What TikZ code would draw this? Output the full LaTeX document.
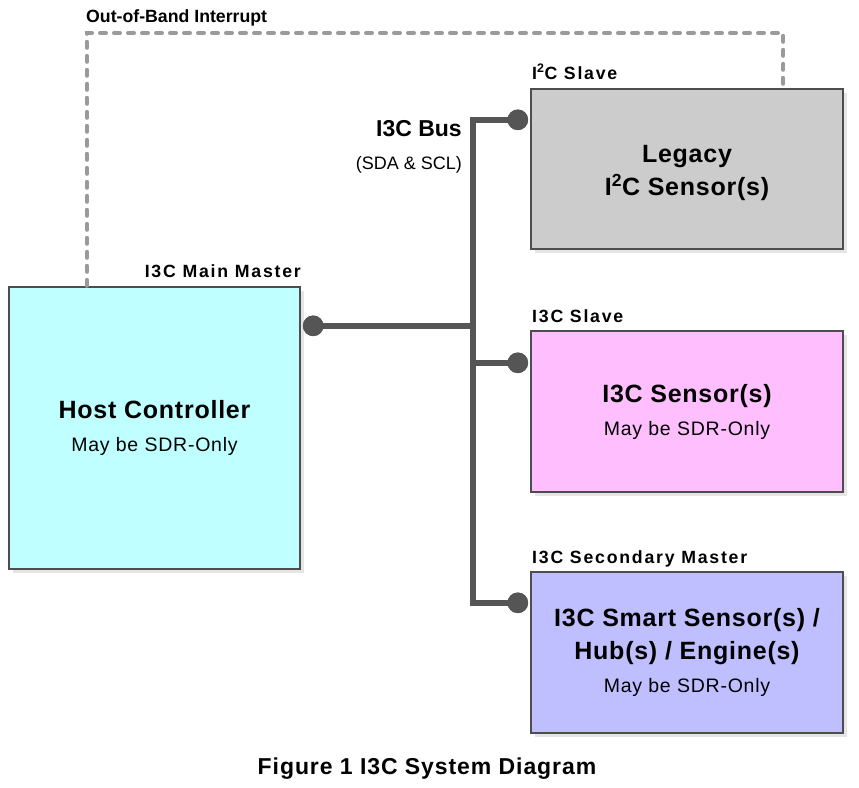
\documentclass[tikz,border=0pt]{standalone}
\usepackage{fontspec}
\setmainfont{Liberation Sans}
\usetikzlibrary{shadows}
\begin{document}
\begin{tikzpicture}[x=1pt,y=-1pt,
  unitbox/.style={draw=boxedge, line width=2.4pt, rectangle, align=center,
    inner sep=0pt, text=black,
    drop shadow={shadow xshift=4pt, shadow yshift=-4pt, fill=black!10, opacity=1},
    font=\fontsize{25}{33}\selectfont\bfseries\addfontfeatures{LetterSpace=3}},
  lbl/.style={inner sep=0pt, text=black, font=\fontsize{17.7}{20}\selectfont\bfseries},
  spaced/.style={font=\fontsize{17.7}{20}\selectfont\bfseries\addfontfeatures{LetterSpace=10}},
  bus/.style={draw=buscol, line width=6.5pt, line join=miter},
  busdot/.style={circle, fill=buscol, minimum size=20.6pt, inner sep=0pt},
  oob/.style={draw=oobcol, line width=4pt, line cap=round, dash pattern=on 6pt off 8pt}
]
\definecolor{boxedge}{HTML}{4D4D4D}
\definecolor{buscol}{HTML}{555555}
\definecolor{oobcol}{HTML}{9A9A9A}
\definecolor{hostfill}{HTML}{BFFFFF}
\definecolor{legacyfill}{HTML}{CCCCCC}
\definecolor{slavefill}{HTML}{FFBFFF}
\definecolor{smartfill}{HTML}{BFBFFF}
\newcommand{\subline}{\normalfont\fontsize{19.5}{33}\selectfont\addfontfeatures{LetterSpace=4}}

\useasboundingbox (0,0) rectangle (859,787);

% devices
\node[unitbox, fill=hostfill, minimum width=291pt, minimum height=282pt] (host) at (154.5,428)
  {Host Controller\\ \subline May be SDR-Only};
\node[unitbox, fill=legacyfill, minimum width=312pt, minimum height=160pt] (legacy) at (687,169)
  {\rule{0pt}{24.5pt}Legacy\\ I\textsuperscript{2}C Sensor(s)};
\node[unitbox, fill=slavefill, minimum width=312pt, minimum height=161pt] (slave) at (687,411.5)
  {I3C Sensor(s)\\ \subline May be SDR-Only};
\node[unitbox, fill=smartfill, minimum width=312pt, minimum height=161pt] (smart) at (687,652.5)
  {I3C Smart Sensor(s) /\\ Hub(s) / Engine(s)\\ \subline May be SDR-Only};

% role labels
\node[lbl, spaced, anchor=base east] (lhost) at (301,277) {I3C Main Master};
\node[lbl, spaced, anchor=base west] (llegacy) at (532,79) {I\textsuperscript{2}C Slave};
\node[lbl, spaced, anchor=base west] (lslave) at (532,322) {I3C Slave};
\node[lbl, spaced, anchor=base west] (lsmart) at (532,563) {I3C Secondary Master};
\node[lbl, anchor=base west] (loob) at (86,23) {Out-of-Band Interrupt};

% bus labels
\node[inner sep=0pt, anchor=base east, font=\fontsize{23}{26}\selectfont\bfseries] (lbus) at (462,136) {I3C Bus};
\node[inner sep=0pt, anchor=base east, font=\fontsize{18}{20}\selectfont] (lsig) at (462,169) {(SDA \& SCL)};

% out-of-band interrupt line
\coordinate (oobA) at ([xshift=79pt]host.north west);
\coordinate (oobB) at ([xshift=-61pt]legacy.north east);
\draw[oob] (oobA) -- (oobA |- 0,33) -| (oobB);

% bus taps
\node[busdot] (dhost) at ([shift={(12pt,-40pt)}]host.north east) {};
\node[busdot] (dlegacy) at ([shift={(-12pt,-32pt)}]legacy.north west) {};
\node[busdot] (dslave) at ([shift={(-12pt,-33pt)}]slave.north west) {};
\node[busdot] (dsmart) at ([shift={(-12pt,-32pt)}]smart.north west) {};
\coordinate (jtop) at (dlegacy.center -| 473,0);
\coordinate (jbot) at (dsmart.center -| 473,0);

\draw[bus] (dlegacy.center) -- (jtop) -- (jbot) -- (dsmart.center);
\draw[bus] (dhost.center) -- (dhost.center -| jtop);
\draw[bus] (dslave.center) -- (dslave.center -| jtop);
\node[busdot] at (dhost) {};
\node[busdot] at (dlegacy) {};
\node[busdot] at (dslave) {};
\node[busdot] at (dsmart) {};

% caption
\node[inner sep=0pt, anchor=base, font=\fontsize{23}{26}\selectfont\bfseries\addfontfeatures{LetterSpace=4}] (cap) at (427,774) {Figure 1 I3C System Diagram};
\end{tikzpicture}
\end{document}
